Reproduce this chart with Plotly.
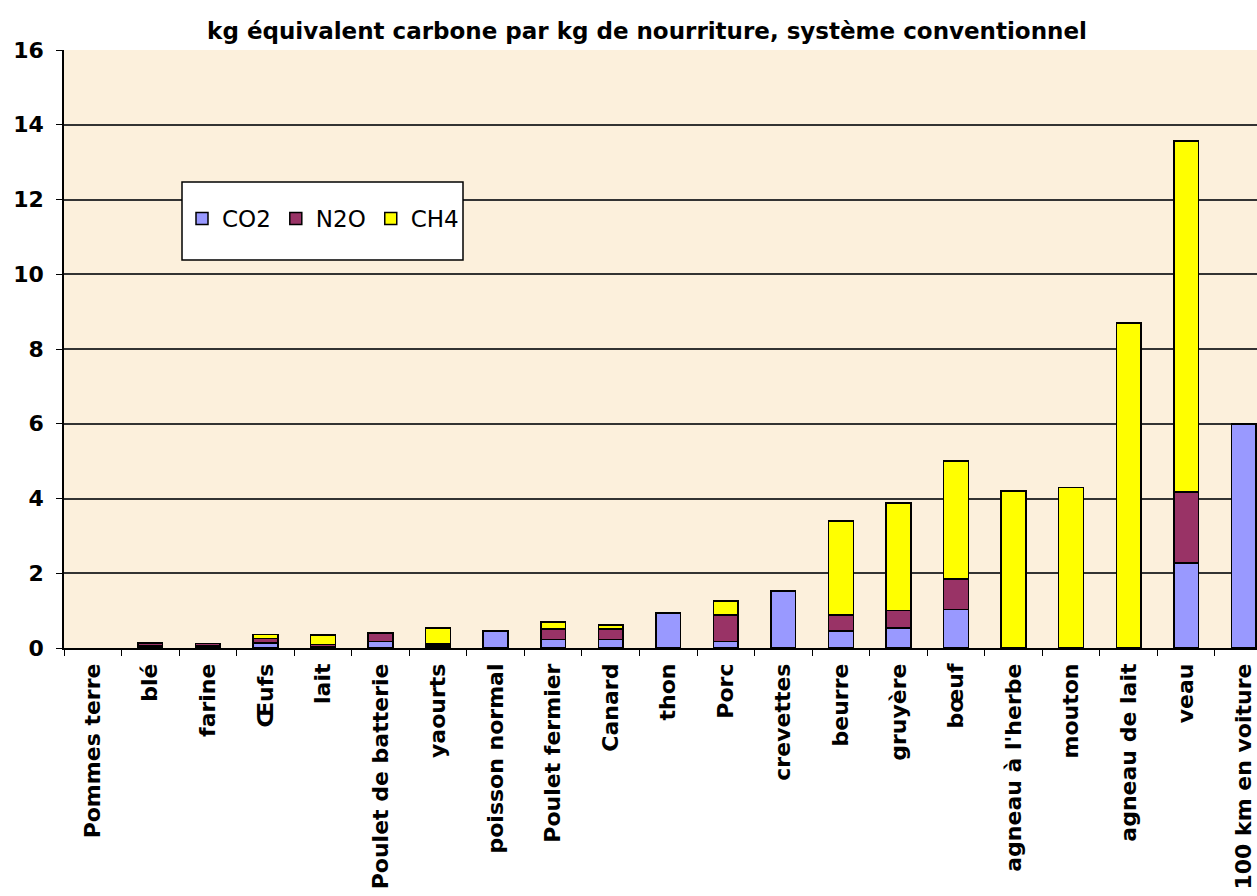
import plotly.graph_objects as go

categories = ["Pommes terre", "blé", "farine", "Œufs", "lait", "Poulet de batterie",
              "yaourts", "poisson normal", "Poulet fermier", "Canard", "thon", "Porc",
              "crevettes", "beurre", "gruyère", "bœuf", "agneau à l'herbe", "mouton",
              "agneau de lait", "veau", "100 km en voiture"]
co2 = [None, 0.06, 0.05, 0.14, 0.04, 0.18, 0.05, 0.46, 0.23, 0.23, 0.94, 0.18,
       1.52, 0.45, 0.54, 1.03, None, None, None, 2.28, 6.0]
n2o = [None, 0.07, 0.07, 0.12, 0.05, 0.22, 0.06, None, 0.28, 0.28, None, 0.70,
       None, 0.43, 0.46, 0.81, None, None, None, 1.90, None]
ch4 = [None, None, None, 0.10, 0.26, 0.02, 0.42, None, 0.18, 0.11, None, 0.38,
       None, 2.52, 2.88, 3.16, 4.20, 4.30, 8.70, 9.39, None]
series = [("CO2", co2, "#9999FF"), ("N2O", n2o, "#993366"), ("CH4", ch4, "#FFFF00")]
yticks = [0, 2, 4, 6, 8, 10, 12, 14, 16]

fig = go.Figure()
for name, vals, col in series:
    fig.add_trace(go.Bar(x=categories, y=vals, name=name,
                         marker=dict(color=col, line=dict(color="#000000", width=1.5))))

W, H = 1257, 896
L, T, B = 64, 50, 248
PW, PH = W - L, H - T - B
cat_w = (1272.5 - L) / 21

def px(x):
    return (x - L) / PW

def py(y):
    return (T + PH - y) / PH

fig.add_shape(type="rect", xref="paper", yref="paper",
              x0=px(182), x1=px(463), y0=py(260), y1=py(182),
              fillcolor="white", line=dict(color="black", width=1.5), layer="above")

fig.update_layout(
    width=W, height=H, barmode="stack", bargap=0.57,
    margin=dict(l=L, r=0, t=T, b=B, pad=0, autoexpand=False),
    paper_bgcolor="white", plot_bgcolor="#FCF0DC",
    font=dict(family="DejaVu Sans", color="black"),
    title=dict(text="<b>kg équivalent carbone par kg de nourriture, système conventionnel</b>",
               x=647 / W, xanchor="center", y=1 - 31 / H, yanchor="middle",
               font=dict(size=23, family="DejaVu Sans", color="black")),
    legend=dict(orientation="h", x=px(182), xanchor="left",
                y=py(197), yanchor="top", bgcolor="rgba(0,0,0,0)",
                borderwidth=0,
                font=dict(size=23, family="DejaVu Sans", color="black"),
                itemwidth=30, traceorder="normal"),
    showlegend=True,
)
fig.update_xaxes(range=[-0.5, PW / cat_w - 0.5], tickangle=-90, automargin=False,
                 showline=True, linecolor="black", linewidth=1.5,
                 ticks="outside", ticklen=6, tickcolor="black",
                 tickson="boundaries", ticklabelstandoff=5,
                 tickfont=dict(size=22, family="DejaVu Sans", color="black"),
                 tickprefix="<b>", ticksuffix="</b>", showgrid=False)
fig.update_yaxes(range=[0, 16], tickvals=yticks, ticktext=[f"<b>{v}</b>" for v in yticks],
                 automargin=False,
                 showline=True, linecolor="black", linewidth=1.5,
                 ticks="outside", ticklen=6, tickcolor="black", ticklabelstandoff=8,
                 showgrid=True, gridcolor="#333333", gridwidth=1.5,
                 tickfont=dict(size=22, family="DejaVu Sans", color="black"),
                 zeroline=False)
fig.write_html("out.html", config={"displayModeBar": False},
               post_script="document.body.style.margin='0';")
